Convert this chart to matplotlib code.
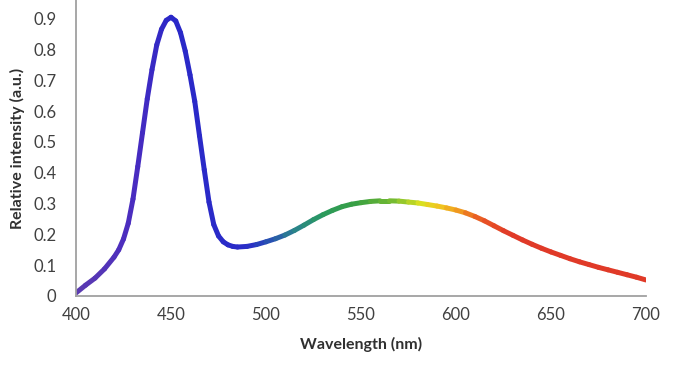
import numpy as np
import matplotlib
matplotlib.use("Agg")
import matplotlib.pyplot as plt
from matplotlib.collections import LineCollection
from matplotlib.colors import LinearSegmentedColormap

wavelength = [400, 405, 410, 415, 420, 422.5, 425, 427.5, 430, 432.5, 435, 437.5,
              440, 442.5, 445, 447.5, 450, 452.5, 455, 457.5, 460, 462.5, 465,
              467.5, 470, 472.5, 475, 477.5, 480, 482.5, 485, 490, 495, 500, 505,
              510, 515, 520, 525, 530, 535, 540, 545, 550, 555, 560, 565, 570,
              575, 580, 585, 590, 595, 600, 605, 610, 615, 620, 625, 630, 635,
              640, 645, 650, 655, 660, 665, 670, 675, 680, 685, 690, 695, 700]
intensity = [0.010, 0.035, 0.058, 0.088, 0.126, 0.150, 0.185, 0.236, 0.315, 0.420,
             0.530, 0.640, 0.735, 0.815, 0.866, 0.895, 0.905, 0.893, 0.855, 0.795,
             0.718, 0.632, 0.520, 0.410, 0.305, 0.232, 0.195, 0.176, 0.166, 0.161,
             0.159, 0.161, 0.167, 0.176, 0.186, 0.198, 0.213, 0.230, 0.248, 0.264,
             0.278, 0.290, 0.298, 0.303, 0.307, 0.309, 0.309, 0.308, 0.305, 0.302,
             0.297, 0.292, 0.286, 0.279, 0.270, 0.258, 0.244, 0.228, 0.212, 0.197,
             0.182, 0.168, 0.155, 0.143, 0.132, 0.121, 0.111, 0.102, 0.093, 0.085,
             0.077, 0.069, 0.061, 0.052]

x_ticks = [400, 450, 500, 550, 600, 650, 700]
y_ticks = [0, 0.1, 0.2, 0.3, 0.4, 0.5, 0.6, 0.7, 0.8, 0.9]
y_tick_labels = ["0", "0.1", "0.2", "0.3", "0.4", "0.5", "0.6", "0.7", "0.8", "0.9"]

# colour stops along wavelength
stop_wl = [400, 430, 450, 490, 500, 515, 530, 550, 570, 582, 592, 602, 615, 630, 700]
stop_col = ["#5c3cb0", "#4a2cc0", "#2a28c8", "#2a2cc8", "#2848b8", "#2a8090",
            "#2a9a60", "#3aa040", "#80c030", "#d8e020", "#f0c820", "#f09a20",
            "#e85525", "#e03a28", "#e03a28"]

plt.rcParams['font.family'] = ['Lato', 'DejaVu Sans']

fig = plt.figure(figsize=(6.73, 3.70), dpi=100)
ax = fig.add_axes([76/673, 74/370, 570/673, 296/370])

wl = np.array(wavelength, dtype=float)
iv = np.array(intensity, dtype=float)
pts = np.column_stack([wl, iv]).reshape(-1, 1, 2)
segs = np.concatenate([pts[:-1], pts[1:]], axis=1)
pos = [(w - 400) / 300 for w in stop_wl]
cmap = LinearSegmentedColormap.from_list("spec", list(zip(pos, stop_col)))
mid = (wl[:-1] + wl[1:]) / 2
lc = LineCollection(segs, colors=cmap((mid - 400) / 300), linewidths=3.6,
                    capstyle='round', joinstyle='round')
ax.add_collection(lc)

ax.set_xlim(400, 700)
ax.set_ylim(0, 0.961)
ax.set_xticks(x_ticks)
ax.set_yticks(y_ticks)
ax.set_yticklabels(y_tick_labels)
ax.tick_params(axis='both', length=0, labelsize=12, colors='#404040')
ax.tick_params(axis='y', pad=14)
ax.tick_params(axis='x', pad=8)
for s in ['top', 'right']:
    ax.spines[s].set_visible(False)
for s in ['left', 'bottom']:
    ax.spines[s].set_color('#a0a0a0')
    ax.spines[s].set_linewidth(1.3)

ax.set_xlabel("Wavelength (nm)", fontsize=11.5, fontweight='bold', color='#303030', labelpad=10)
ax.set_ylabel("Relative intensity (a.u.)", fontsize=11.5, fontweight='bold', color='#303030', labelpad=6)

fig.savefig("out.png", dpi=100)
